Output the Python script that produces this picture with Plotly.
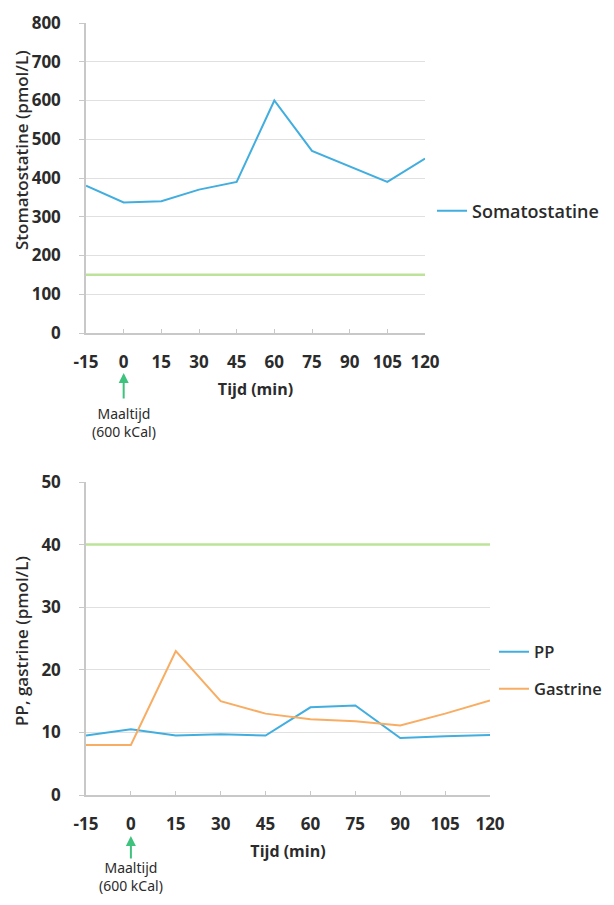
import plotly.graph_objects as go

# ---- data ----
tijd = [-15, 0, 15, 30, 45, 60, 75, 90, 105, 120]
tick_labels = ["-15", "0", "15", "30", "45", "60", "75", "90", "105", "120"]

somatostatine = [380, 337, 340, 370, 390, 600, 470, 430, 390, 450]
somato_ref = [150] * 10

pp = [9.5, 10.5, 9.5, 9.7, 9.5, 14.0, 14.3, 9.1, 9.4, 9.6]
gastrine = [8, 8, 23, 15, 13, 12.1, 11.8, 11.1, 13.0, 15.1]
pp_ref = [40] * 10

# page is shown with an 8px body margin
OFF = 8
W, H = 598, 889

def px(x):
    return (x - OFF) / W

def py(y):
    return 1 - (y - OFF) / H

BLUE = "#41aedf"
ORANGE = "#f8ad63"
GREEN = "#bde39a"
ARROW = "#3fc27d"
GRID = "#e0e0e0"
TXT = "#2b2b2b"

fig = go.Figure()

fig.add_trace(go.Scatter(x=tijd, y=somato_ref, mode="lines", line=dict(color=GREEN, width=2.5),
                         showlegend=False, hoverinfo="skip", xaxis="x", yaxis="y"))
fig.add_trace(go.Scatter(x=tijd, y=somatostatine, mode="lines", name="Somatostatine",
                         line=dict(color=BLUE, width=2), xaxis="x", yaxis="y", legend="legend"))

fig.add_trace(go.Scatter(x=tijd, y=pp_ref, mode="lines", line=dict(color=GREEN, width=2.5),
                         showlegend=False, hoverinfo="skip", xaxis="x2", yaxis="y2"))
fig.add_trace(go.Scatter(x=tijd, y=pp, mode="lines", name="PP",
                         line=dict(color=BLUE, width=2), xaxis="x2", yaxis="y2", legend="legend2"))
fig.add_trace(go.Scatter(x=tijd, y=gastrine, mode="lines", name="Gastrine",
                         line=dict(color=ORANGE, width=2), xaxis="x2", yaxis="y2", legend="legend3"))

tickfont = dict(family="Open Sans", size=17, color=TXT, weight="bold")
titlefont = dict(family="Open Sans", size=17, color=TXT, weight=600)
xtitlefont = dict(family="Open Sans", size=16, color=TXT, weight="bold")

def xax(domain, anchor):
    return dict(domain=domain, anchor=anchor, range=[-15, 120], tickvals=tijd, ticktext=tick_labels,
                showgrid=False, zeroline=False, showline=True, linecolor="#c8c8c8", linewidth=1.5,
                ticks="inside", ticklen=4, tickcolor="#c8c8c8", tickfont=tickfont, automargin=False,
                ticklabelstandoff=13,
                title=dict(text="Tijd (min)", font=xtitlefont, standoff=12))

def yax(domain, anchor, rng, dtick):
    return dict(domain=domain, anchor=anchor, range=rng, dtick=dtick, showgrid=True, gridcolor=GRID,
                gridwidth=1, zeroline=False, showline=True, linecolor="#c8c8c8", linewidth=1.5,
                ticks="outside", ticklen=5, tickcolor="#c8c8c8", tickfont=tickfont,
                ticklabelstandoff=15, automargin=False)

def leg(xpage, ypage, size):
    return dict(x=px(xpage), y=py(ypage), xanchor="left", yanchor="middle",
                font=dict(family="Open Sans", size=size, color=TXT, weight=600),
                bgcolor="rgba(0,0,0,0)")

fig.update_layout(
    width=W, height=H, margin=dict(l=0, r=0, t=0, b=0, autoexpand=False),
    paper_bgcolor="white", plot_bgcolor="white",
    xaxis=xax([px(86), px(425)], "y"),
    yaxis=yax([py(333), py(23)], "x", [0, 800], 100),
    xaxis2=xax([px(86), px(490)], "y2"),
    yaxis2=yax([py(795), py(482)], "x2", [0, 50], 10),
    legend=leg(432, 211, 18),
    legend2=leg(494, 652, 16.5),
    legend3=leg(494, 689, 16.5),
)

# y-axis titles
for text, yc in [("Stomatostatine (pmol/L)", 150), ("PP, gastrine (pmol/L)", 641)]:
    fig.add_annotation(x=px(21), y=py(yc), xref="paper", yref="paper", text=text, textangle=-90,
                       showarrow=False, xanchor="center", yanchor="middle", font=titlefont)

# meal annotations (arrow + label)
for xr, head, tail, center in [("x", 373, 400, 422), ("x2", 836, 860, 876)]:
    fig.add_annotation(x=0, xref=xr, y=py(head), yref="paper", text="", showarrow=True,
                       arrowhead=2, arrowsize=1, arrowwidth=2, arrowcolor=ARROW, ax=0, ay=tail - head)
    fig.add_annotation(x=0, xref=xr, y=py(center), yref="paper", yanchor="middle",
                       text="Maaltijd<br>(600 kCal)", showarrow=False,
                       font=dict(family="Noto Sans", size=14, color=TXT))

fig.write_html("out.html")
